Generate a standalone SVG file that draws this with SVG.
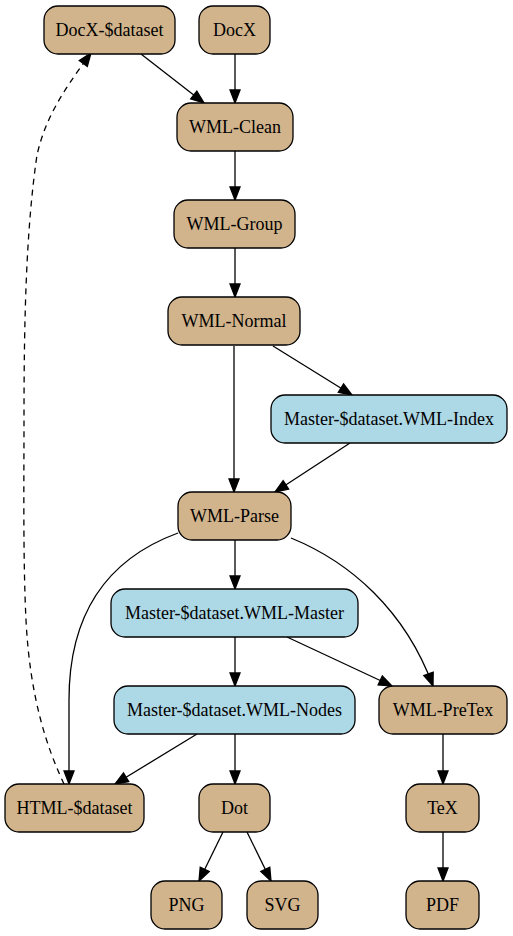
<svg xmlns="http://www.w3.org/2000/svg" width="513" height="936" viewBox="0 0 513 936">
<style>
.n rect{stroke:#000;stroke-width:1.3}
.t rect{fill:#d2b48c}
.b rect{fill:#add8e6}
.n text{font-family:"Liberation Serif","Times New Roman",serif;font-size:18px;text-anchor:middle;fill:#000}
#edges path{fill:none;stroke:#000;stroke-width:1.3;marker-end:url(#a)}
#edges path.d{stroke-dasharray:6,5}
</style>
<defs>
<marker id="a" markerUnits="userSpaceOnUse" markerWidth="14" markerHeight="10" refX="13" refY="5" orient="auto" viewBox="0 0 14 10" overflow="visible">
<path d="M0,0 L13,5 L0,10 Z" fill="#000" stroke="#000" stroke-width="1.3"/>
</marker>
</defs>
<rect width="513" height="936" fill="#fff"/>
<g id="edges">
<path d="M141,54 L204,103"/>
<path d="M235,54 L235,103"/>
<path d="M235,151 L235,200"/>
<path d="M235,248 L235,297"/>
<path d="M273,346 L352,395"/>
<path d="M234,346 L234,492"/>
<path d="M350,443 L275,492"/>
<path d="M235,540 L235,589"/>
<path d="M291,538 C350,562 405,610 433,686"/>
<path d="M287,637 L392,686"/>
<path d="M178,533 C110,558 69,610 69,700 L69,784"/>
<path d="M235,637 L235,686"/>
<path d="M197,734 L115,784"/>
<path d="M235,734 L235,784"/>
<path d="M223,832 L199,881"/>
<path d="M247,832 L271,881"/>
<path d="M443,734 L443,784"/>
<path d="M443,832 L443,881"/>
<path class="d" d="M64,784 C48,750 30,700 26,620 C23,560 24,480 24,420 C24,320 26,230 37,155 C45,120 60,95 91,53"/>
</g>
<g id="docx-dataset" class="n t"><rect x="44" y="6" width="131" height="48" rx="14"/><text x="109.5" y="36">DocX-$dataset</text></g>
<g id="docx" class="n t"><rect x="199" y="6" width="71" height="48" rx="14"/><text x="234.5" y="36">DocX</text></g>
<g id="wml-clean" class="n t"><rect x="177" y="103" width="116" height="48" rx="14"/><text x="235" y="133">WML-Clean</text></g>
<g id="wml-group" class="n t"><rect x="174" y="200" width="121" height="48" rx="14"/><text x="234.5" y="230">WML-Group</text></g>
<g id="wml-normal" class="n t"><rect x="168" y="297" width="132" height="48" rx="14"/><text x="234" y="327">WML-Normal</text></g>
<g id="wml-index" class="n b"><rect x="271" y="395" width="236" height="48" rx="14"/><text x="389" y="425">Master-$dataset.WML-Index</text></g>
<g id="wml-parse" class="n t"><rect x="178" y="492" width="113" height="48" rx="14"/><text x="234.5" y="522">WML-Parse</text></g>
<g id="wml-master" class="n b"><rect x="111" y="589" width="247" height="48" rx="14"/><text x="234.5" y="619">Master-$dataset.WML-Master</text></g>
<g id="wml-nodes" class="n b"><rect x="114" y="686" width="241" height="48" rx="14"/><text x="234.5" y="716">Master-$dataset.WML-Nodes</text></g>
<g id="wml-pretex" class="n t"><rect x="379" y="686" width="128" height="48" rx="14"/><text x="443" y="716">WML-PreTex</text></g>
<g id="html-dataset" class="n t"><rect x="5" y="784" width="139" height="48" rx="14"/><text x="74.5" y="814">HTML-$dataset</text></g>
<g id="dot" class="n t"><rect x="199" y="784" width="71" height="48" rx="14"/><text x="234.5" y="814">Dot</text></g>
<g id="tex" class="n t"><rect x="406" y="784" width="73" height="48" rx="14"/><text x="442.5" y="814">TeX</text></g>
<g id="png" class="n t"><rect x="151" y="881" width="71" height="48" rx="14"/><text x="186.5" y="911">PNG</text></g>
<g id="svg" class="n t"><rect x="247" y="881" width="71" height="48" rx="14"/><text x="282.5" y="911">SVG</text></g>
<g id="pdf" class="n t"><rect x="406" y="881" width="73" height="48" rx="14"/><text x="442.5" y="911">PDF</text></g>
</svg>
